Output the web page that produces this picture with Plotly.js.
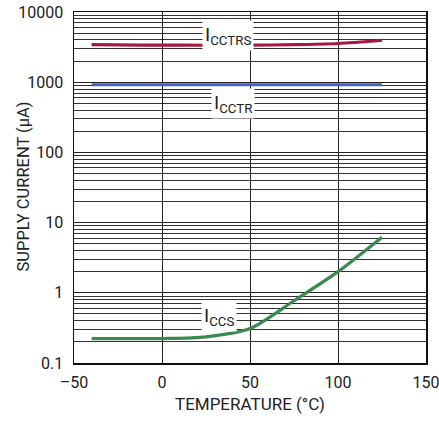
<!DOCTYPE html>
<html>
<head>
<meta charset="utf-8">
<script src="https://cdn.plot.ly/plotly-3.0.1.min.js"></script>
<style>html,body{margin:0;padding:0;background:#fff;}#chart{width:439px;height:421px;}</style>
</head>
<body>
<div id="chart"></div>
<script>
const temperature = [-40, -25, 0, 25, 50, 75, 100, 125];
const iCCTRS = [3430, 3400, 3370, 3360, 3370, 3420, 3560, 3960];
const iCCTR = [920, 920, 920, 920, 920, 920, 920, 920];
const iCCS = [0.222, 0.222, 0.223, 0.236, 0.31, 0.77, 2.0, 6.2];

const yTickVals = [0.1, 1, 10, 100, 1000, 10000];
const yTickText = ['0.1', '1', '10', '100', '1000', '10000'];
const xTickVals = [-50, 0, 50, 100, 150];
const xTickText = ['\u201350', '0', '50', '100', '150'];
const yTitle = 'SUPPLY CURRENT (\u00B5A)';
const xTitle = 'TEMPERATURE (\u00B0C)';

const labels = [
  {text: 'I<sub>CCTRS</sub>', x: 37.7, y: 4670},
  {text: 'I<sub>CCTR</sub>', x: 40.2, y: 498},
  {text: 'I<sub>CCS</sub>', x: 32.6, y: 0.46}
];

const font = 'Roboto, Arial, sans-serif';
const mk = (y, color) => ({
  x: temperature, y: y, type: 'scatter', mode: 'lines',
  line: {color: color, width: 3.2, shape: 'spline', smoothing: 0.8},
  hoverinfo: 'skip', showlegend: false
});

const data = [
  mk(iCCTRS, '#a5193c'),
  mk(iCCTR, '#4363b6'),
  mk(iCCS, '#3a8a50')
];

const annotations = labels.map(l => ({
  x: l.x, y: Math.log10(l.y), xref: 'x', yref: 'y', text: l.text,
  showarrow: false, bgcolor: '#fff', borderpad: 2,
  font: {family: font, size: 19, color: '#222'}
}));
annotations.push({
  x: 0, y: 0.5, xref: 'paper', yref: 'paper', xanchor: 'center', yanchor: 'middle',
  xshift: -51, yshift: 1, textangle: -90, text: yTitle, showarrow: false,
  font: {family: font, size: 16.5, color: '#222'}
});

const layout = {
  width: 439, height: 421,
  margin: {l: 74, r: 13, t: 12, b: 58},
  paper_bgcolor: '#fff', plot_bgcolor: '#fff',
  font: {family: font, size: 16, color: '#222'},
  showlegend: false,
  xaxis: {
    range: [-50, 150], tickvals: xTickVals, ticktext: xTickText,
    showgrid: true, gridcolor: '#222', gridwidth: 1,
    zeroline: false, showline: true, linecolor: '#111', linewidth: 1.5, mirror: true,
    ticks: '', ticklabelstandoff: 4, ticklabeloverflow: 'allow',
    tickfont: {family: font, size: 16, color: '#222'},
    title: {text: xTitle, font: {family: font, size: 17, color: '#222'}, standoff: 7}
  },
  yaxis: {
    type: 'log', range: [-1, 4], tickvals: yTickVals, ticktext: yTickText,
    showgrid: true, gridcolor: '#222', gridwidth: 1,
    minor: {showgrid: true, gridcolor: '#333', gridwidth: 1, dtick: 'D1', ticks: ''},
    zeroline: false, showline: true, linecolor: '#111', linewidth: 1.5, mirror: true,
    ticks: '', ticklabelstandoff: 6,
    tickfont: {family: font, size: 16, color: '#222'}
  },
  annotations: annotations
};

Plotly.newPlot('chart', data, layout, {displayModeBar: false, staticPlot: true});
</script>
</body>
</html>
